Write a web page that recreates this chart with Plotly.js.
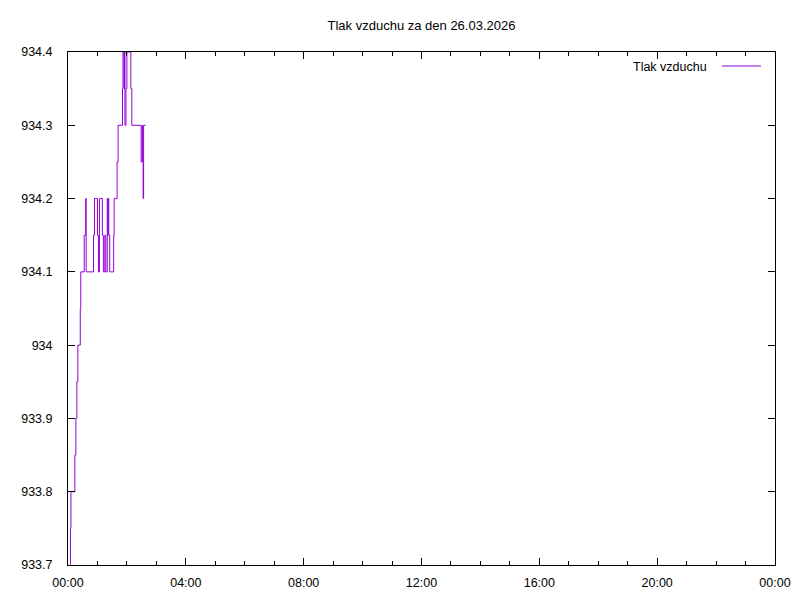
<!DOCTYPE html>
<html>
<head>
<meta charset="utf-8">
<script src="https://cdn.plot.ly/plotly-3.0.1.min.js"></script>
<style>html,body{margin:0;padding:0;background:#fff;}#chart{width:800px;height:600px;}</style>
</head>
<body>
<div id="chart"></div>
<script>
// Measurement date and series
const day = "2026-03-26";
const seriesName = "Tlak vzduchu";
const times = ["00:04","00:05","00:06","00:14","00:16","00:18","00:20","00:25","00:26","00:33","00:36","00:37",
  "00:52","00:54","01:00","01:02","01:04","01:10","01:12","01:15","01:17","01:20","01:21","01:22","01:23","01:25",
  "01:33","01:34","01:40","01:42","01:51","01:52","01:54","01:55","01:56","01:58","02:00","02:08","02:10",
  "02:29","02:31","02:32","02:33","02:34","02:38"];
const pressure = [933.7,933.75,933.8,933.85,933.9,933.95,934.0,934.05,934.1,934.15,934.2,934.1,
  934.15,934.2,934.15,934.1,934.2,934.15,934.1,934.15,934.1,934.2,934.15,934.2,934.15,934.1,
  934.15,934.2,934.25,934.3,934.35,934.4,934.35,934.4,934.3,934.35,934.4,934.35,934.3,
  934.25,934.3,934.25,934.2,934.3,934.3];
const yTickVals = [933.7,933.8,933.9,934.0,934.1,934.2,934.3,934.4];
const yTickText = ["933.7","933.8","933.9","934","934.1","934.2","934.3","934.4"];
const chartTitle = "Tlak vzduchu za den 26.03.2026";

const x = times.map(t => day + " " + t);
const font = {family: "Liberation Sans, Arial, sans-serif", size: 12.5, color: "#000"};

const trace = {
  x: x, y: pressure, type: "scatter", mode: "lines", name: seriesName,
  line: {color: "#9400d3", width: 1, shape: "hv"}, showlegend: false
};

const layout = {
  width: 800, height: 600,
  margin: {l: 68, r: 25, t: 52, b: 35, pad: 0},
  paper_bgcolor: "#fff", plot_bgcolor: "#fff",
  font: font,
  title: {text: chartTitle, font: Object.assign({}, font, {size: 13}), xref: "paper", x: 0.5, xanchor: "center",
          yref: "container", y: 1 - 25/600, yanchor: "middle"},
  xaxis: {
    type: "date", range: [day + " 00:00", "2026-03-27 00:00"],
    dtick: 4*3600*1000, tick0: day + " 00:00", tickformat: "%H:%M",
    ticks: "inside", ticklen: 7, tickcolor: "#000", tickwidth: 1,
    minor: {dtick: 3600*1000, ticks: "inside", ticklen: 4, tickcolor: "#000", showgrid: false},
    showline: true, linecolor: "#000", linewidth: 1, mirror: "ticks",
    showgrid: false, zeroline: false, ticklabelstandoff: 6, tickfont: font
  },
  yaxis: {
    range: [933.7, 934.4], tickmode: "array", tickvals: yTickVals, ticktext: yTickText,
    ticks: "inside", ticklen: 7, tickcolor: "#000", tickwidth: 1,
    showline: true, linecolor: "#000", linewidth: 1, mirror: "ticks",
    showgrid: false, zeroline: false, ticklabelstandoff: 12, tickfont: font
  },
  annotations: [{
    xref: "paper", yref: "paper", x: (709 - 68)/707, y: (565 - 67)/513,
    xanchor: "right", yanchor: "middle", text: seriesName, showarrow: false, font: font
  }],
  shapes: [{
    type: "line", xref: "paper", yref: "paper",
    x0: (722 - 68)/707, x1: (761 - 68)/707, y0: (565 - 66)/513, y1: (565 - 66)/513,
    line: {color: "#9400d3", width: 1}
  }]
};

Plotly.newPlot("chart", [trace], layout, {displayModeBar: false, staticPlot: true});
</script>
</body>
</html>
